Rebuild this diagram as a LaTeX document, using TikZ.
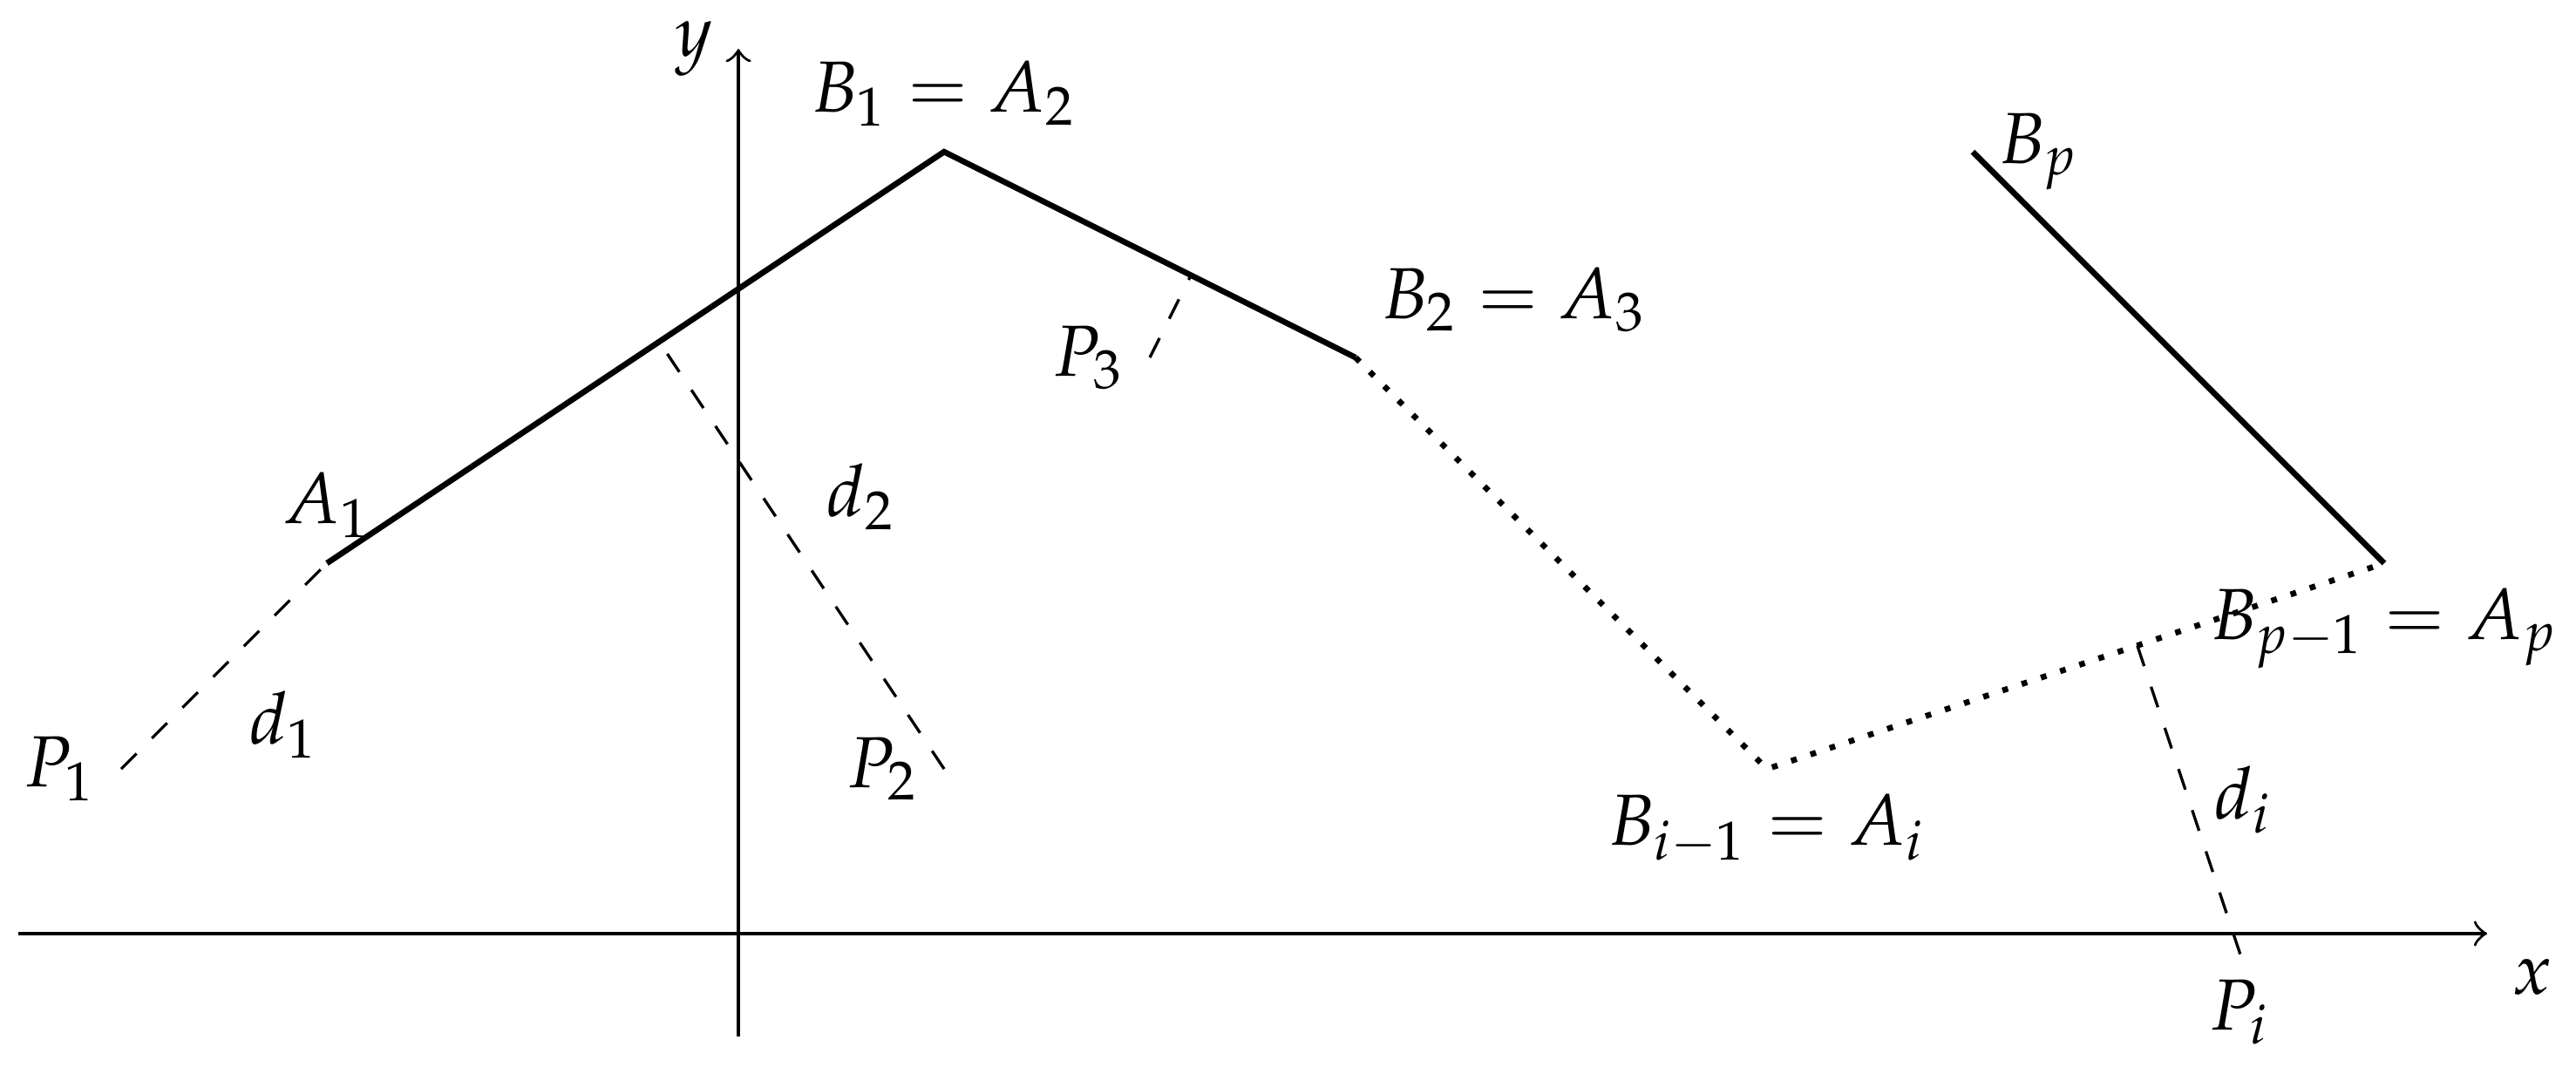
\documentclass[tikz,border=0pt]{standalone}
\usepackage{amsmath}
\usepackage{mathpazo}
\usetikzlibrary{calc}

\begin{document}
\begin{tikzpicture}[
  segment/.style = {thick},
  hidden/.style = {thick, dotted},
  gap/.style = {dashed},
  axis/.style = {->},
  ]
  \useasboundingbox (-3.589,-0.448) rectangle (8.932,4.738);

  \coordinate (xmin) at (-3.5,0.2);
  \coordinate (xmax) at (8.5,0.2);
  \coordinate (ymin) at (0,-0.3);
  \coordinate (ymax) at (0,4.5);
  \draw[axis] (xmin) -- (xmax) node[below right] (xlabel) {$x$};
  \draw[axis] (ymin) -- (ymax) node[left] (ylabel) {$y$};

  \coordinate (A1) at (-2,2);
  \coordinate (B1) at (1,4);
  \coordinate (B2) at (3,3);
  \coordinate (Ai) at (5,1);
  \coordinate (Ap) at (8,2);
  \coordinate (Bp) at (6,4);

  \coordinate (P1) at (-3,1);
  \coordinate (P2) at (1,1);
  \coordinate (P3) at (2,3);
  \coordinate (Pi) at (7.3,0.1);

  \coordinate (H2) at ($(A1)!(P2)!(B1)$);
  \coordinate (H3) at ($(B1)!(P3)!(B2)$);
  \coordinate (Hi) at ($(Ai)!(Pi)!(Ap)$);

  \draw[segment] (A1) -- (B1) -- (B2);
  \draw[hidden] (B2) -- (Ai) -- (Ap);
  \draw[segment] (Ap) -- (Bp);

  \draw[gap] (P1) -- (A1) node[midway, below right] (d1) {$d_1$};
  \draw[gap] (P2) -- (H2) node[midway, above right] (d2) {$d_2$};
  \draw[gap] (P3) -- (H3);
  \draw[gap] (Hi) -- (Pi) node[midway, right] (di) {$d_i$};

  \node[above] (lA1) at (A1) {$A_1$};
  \node[above] (lB1) at (B1) {$B_1 = A_2$};
  \node[above right] (lB2) at (B2) {$B_2 = A_3$};
  \node[below] (lAi) at (Ai) {$B_{i-1} = A_i$};
  \node[below] (lAp) at (Ap) {$B_{p-1} = A_p$};
  \node[right] (lBp) at (Bp) {$B_p$};

  \node[left] (lP1) at (P1) {$P_1$};
  \node[left] (lP2) at (P2) {$P_2$};
  \node[left] (lP3) at (P3) {$P_3$};
  \node[below] (lPi) at (Pi) {$P_i$};
\end{tikzpicture}
\end{document}
